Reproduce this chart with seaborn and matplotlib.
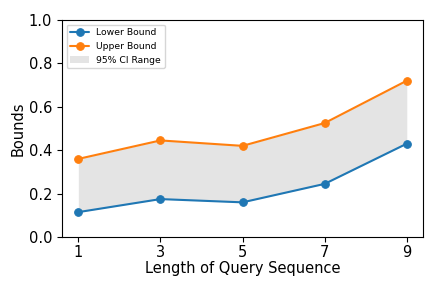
import numpy as np
import pandas as pd

import matplotlib
matplotlib.use('Agg')
import matplotlib.pyplot as plt
import seaborn as sns

seq_len = [1, 3, 5, 7, 9]
lower = [0.115, 0.175, 0.16, 0.245, 0.43]
upper = [0.36, 0.445, 0.42, 0.525, 0.72]

sns.set_style("ticks", {'axes.edgecolor': 'black', 'text.color': 'black',
                        'xtick.color': 'black', 'ytick.color': 'black',
                        'axes.labelcolor': 'black'})
plt.rcParams['font.family'] = ['DejaVu Sans']
plt.rcParams['xtick.major.size'] = 3.5
plt.rcParams['ytick.major.size'] = 3.5

ds = pd.DataFrame({'len': seq_len, 'lower': lower, 'upper': upper})

f, ax = plt.subplots(figsize=(4.39, 2.92), dpi=100)
sns.lineplot(data=ds, x='len', y='lower', marker='o', color='tab:blue',
             markeredgecolor='tab:blue', markersize=5.5, label='Lower Bound', ax=ax)
sns.lineplot(data=ds, x='len', y='upper', marker='o', color='tab:orange',
             markeredgecolor='tab:orange', markersize=5.5, label='Upper Bound', ax=ax)
ax.fill_between(ds['len'], ds['lower'], ds['upper'], color='lightgray',
                alpha=0.6, linewidth=0, label='95% CI Range')

ax.set_ylim(0, 1.0)
ax.set_xticks(seq_len)
ax.set_xlabel('Length of Query Sequence', fontsize=10.5, labelpad=1)
ax.set_ylabel('Bounds', fontsize=10.5, labelpad=2)
ax.tick_params(axis='x', labelsize=10.5, pad=2)
ax.tick_params(axis='y', labelsize=10.5)
ax.legend(loc='upper left', fontsize=6.7)
plt.subplots_adjust(left=0.141, right=0.964, top=0.932, bottom=0.188)
plt.savefig('out.png')
